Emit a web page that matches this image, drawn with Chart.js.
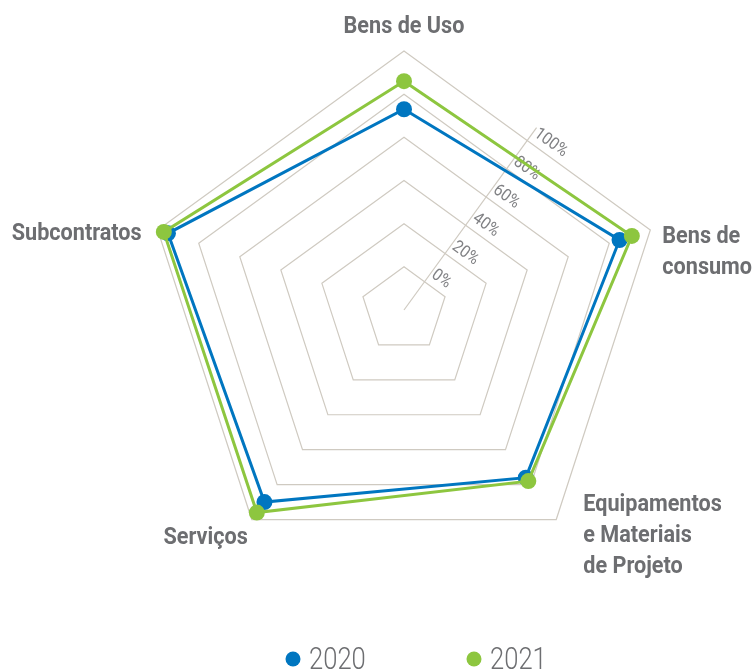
<!DOCTYPE html>
<html>
<head>
<meta charset="utf-8">
<script src="https://cdn.jsdelivr.net/npm/chart.js@4"></script>
<style>
    body { margin: 0; background: #fff; }
    canvas { display: block; }
</style>
</head>
<body>
<canvas id="radarChart" width="754" height="672"></canvas>
<script>
const categories = [
    ['Bens de Uso'],
    ['Bens de', 'consumo'],
    ['Equipamentos', 'e Materiais', 'de Projeto'],
    ['Serviços'],
    ['Subcontratos']
];
const values2020 = [73, 85, 76, 90, 95];
const values2021 = [86, 91, 78, 96, 97];
const tickValues = [0, 20, 40, 60, 80, 100];
const tickLabels = ['0%', '20%', '40%', '60%', '80%', '100%'];
const seriesNames = ['2020', '2021'];

const BLUE = '#0076c0';
const GREEN = '#8dc63f';
const GREY_TEXT = '#6d6e71';
const GRID = '#cfcac1';
const FONT = "Roboto, 'Liberation Sans', sans-serif";

// where each category label sits relative to its outer vertex
const labelPlacement = [
    { align: 'center', dx: 0, dy: -18 },
    { align: 'left', dx: 12, dy: 13 },
    { align: 'left', dx: 27, dy: -9 },
    { align: 'right', dx: -4, dy: 24 },
    { align: 'right', dx: -16, dy: 10 }
];

// condensed look: squeeze text horizontally around its anchor
function narrowText(ctx, text, x, y, sx) {
    ctx.save();
    ctx.translate(x, y);
    ctx.scale(sx, 1);
    ctx.fillText(text, 0, 0);
    ctx.restore();
}

const radarDecor = {
    id: 'radarDecor',
    beforeDatasetsDraw(chart) {
        const ctx = chart.ctx;
        const r = chart.scales.r;
        // value axis runs between the first two spokes
        const edge = Math.cos(Math.PI / categories.length);
        const start = r.getPointPosition(0.5, 0);
        const end = r.getPointPosition(0.5, r.drawingArea * edge + 16);
        ctx.save();
        ctx.strokeStyle = GRID;
        ctx.lineWidth = 1.2;
        ctx.beginPath();
        ctx.moveTo(start.x, start.y);
        ctx.lineTo(end.x, end.y);
        ctx.stroke();

        ctx.font = '17px ' + FONT;
        ctx.fillStyle = '#808184';
        ctx.textAlign = 'left';
        ctx.textBaseline = 'middle';
        tickValues.forEach((v, i) => {
            const d = r.getDistanceFromCenterForValue(v) * edge;
            const p = r.getPointPosition(0.5, d);
            ctx.save();
            ctx.translate(p.x, p.y);
            ctx.rotate(p.angle + Math.PI / 2);
            narrowText(ctx, tickLabels[i], 2, -12, 0.9);
            ctx.restore();
        });
        ctx.restore();
    },
    afterDraw(chart) {
        const ctx = chart.ctx;
        const r = chart.scales.r;
        ctx.save();
        ctx.font = 'bold 23px ' + FONT;
        ctx.fillStyle = GREY_TEXT;
        ctx.textBaseline = 'alphabetic';
        categories.forEach((lines, i) => {
            const p = r.getPointPosition(i, r.drawingArea);
            const place = labelPlacement[i];
            ctx.textAlign = place.align;
            lines.forEach((line, j) => {
                narrowText(ctx, line, p.x + place.dx, p.y + place.dy + j * 31, 0.94);
            });
        });

        // legend
        const legendX = [293, 474];
        const colors = [BLUE, GREEN];
        ctx.font = '300 32px ' + FONT;
        ctx.textAlign = 'left';
        seriesNames.forEach((name, i) => {
            ctx.fillStyle = colors[i];
            ctx.beginPath();
            ctx.arc(legendX[i], 659, 7.5, 0, Math.PI * 2);
            ctx.fill();
            ctx.fillStyle = GREY_TEXT;
            narrowText(ctx, name, legendX[i] + 16, 669, 0.8);
        });
        ctx.restore();
    }
};

new Chart(document.getElementById('radarChart'), {
    type: 'radar',
    data: {
        labels: categories,
        datasets: [{
            label: seriesNames[0],
            data: values2020,
            borderColor: BLUE,
            backgroundColor: 'transparent',
            pointBackgroundColor: BLUE,
            pointBorderWidth: 0,
            pointRadius: 8,
            borderWidth: 3,
            order: 1
        }, {
            label: seriesNames[1],
            data: values2021,
            borderColor: GREEN,
            backgroundColor: 'transparent',
            pointBackgroundColor: GREEN,
            pointBorderWidth: 0,
            pointRadius: 8,
            borderWidth: 3,
            order: 0
        }]
    },
    options: {
        responsive: false,
        animation: false,
        layout: {
            padding: { left: 145, right: 91, top: 51, bottom: 103 }
        },
        plugins: {
            legend: { display: false },
            tooltip: { enabled: false }
        },
        scales: {
            r: {
                min: -20,
                max: 100,
                ticks: { display: false, stepSize: 20 },
                grid: { color: GRID, lineWidth: 1.2 },
                angleLines: { display: false },
                pointLabels: { display: false }
            }
        }
    },
    plugins: [radarDecor]
});
</script>
</body>
</html>
